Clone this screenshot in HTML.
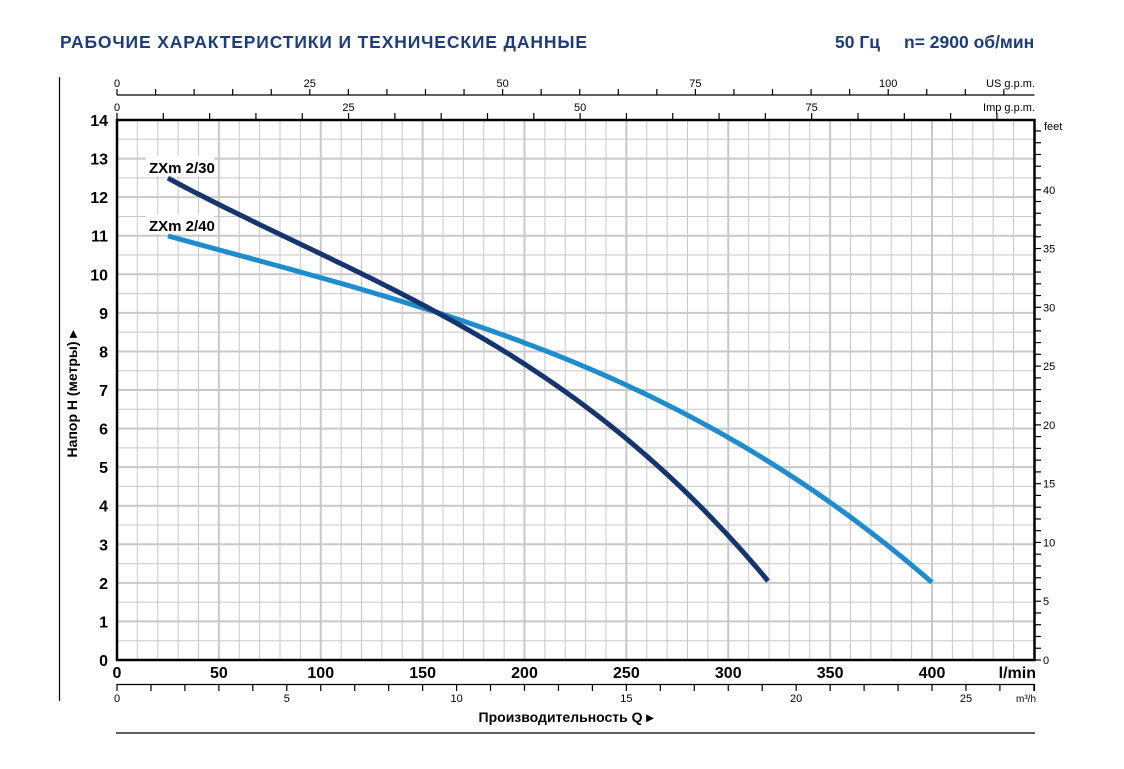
<!DOCTYPE html>
<html><head><meta charset="utf-8"><style>
body{margin:0;background:#fff;width:1124px;height:769px;overflow:hidden}
svg{display:block;font-family:"Liberation Sans Narrow","Liberation Sans",sans-serif}
</style></head><body>
<svg id="s" width="1124" height="769" viewBox="0 0 1124 769" xmlns="http://www.w3.org/2000/svg">
<text x="60" y="48" font-size="17.5" font-weight="bold" fill="#1d3c78" textLength="527">РАБОЧИЕ ХАРАКТЕРИСТИКИ И ТЕХНИЧЕСКИЕ ДАННЫЕ</text>
<text x="835" y="48" font-size="17.5" font-weight="bold" fill="#1d3c78">50 Гц</text>
<text x="904" y="48" font-size="17.5" font-weight="bold" fill="#1d3c78">n= 2900 об/мин</text>
<g id="g"></g>
</svg>
<script>
const NS="http://www.w3.org/2000/svg",g=document.getElementById('g');
function el(t,a,txt){const e=document.createElementNS(NS,t);for(const k in a)e.setAttribute(k,a[k]);if(txt!=null)e.textContent=txt;g.appendChild(e);return e;}
const X0=117,XR=1034.5,Y0=660,YT=120,kx=2.0375,ky=38.57;
const X=q=>X0+q*kx,Y=h=>Y0-h*ky;
for(let q=10;q<450;q+=10){el('line',{x1:X(q),x2:X(q),y1:YT,y2:Y0,stroke:'#c8c8c8','stroke-width':q%50?1:2});}
for(let h=0.5;h<14;h+=0.5){el('line',{x1:X0,x2:XR,y1:Y(h),y2:Y(h),stroke:'#c8c8c8','stroke-width':h%1?1:2});}
el('rect',{x:X0,y:YT,width:XR-X0,height:Y0-YT,fill:'none',stroke:'#000','stroke-width':2.5});
for(let h=0;h<=14;h++)el('text',{x:108,y:Y(h)+6,'font-size':16,'font-weight':'bold','text-anchor':'end'},h);
for(let q=0;q<=400;q+=50)el('text',{x:X(q),y:678,'font-size':16,'font-weight':'bold','text-anchor':'middle'},q);
el('text',{x:1036,y:678,'font-size':16,'font-weight':'bold','text-anchor':'end'},'l/min');
el('line',{x1:X0,x2:XR,y1:684.5,y2:684.5,stroke:'#000','stroke-width':1.2});
for(let m=0;m<=27;m++){const x=X(m*1000/60);if(x>XR+1)break;el('line',{x1:x,x2:x,y1:684,y2:691,stroke:'#000','stroke-width':1.2});if(m%5==0)el('text',{x:x,y:702,'font-size':11,'text-anchor':'middle'},m);}
el('line',{x1:XR,x2:XR,y1:684,y2:691,stroke:'#000','stroke-width':1.2});
el('text',{x:1036,y:702,'font-size':10,'text-anchor':'end'},'m³/h');
el('line',{x1:X0,x2:XR,y1:95,y2:95,stroke:'#000','stroke-width':1.2});
for(let u=0;u<=115;u+=5){const x=X(u*3.785);if(x>XR)break;el('line',{x1:x,x2:x,y1:89,y2:95,stroke:'#000','stroke-width':1.2});if(u%25==0)el('text',{x:x,y:87,'font-size':11,'text-anchor':'middle'},u);}
el('text',{x:1035,y:87,'font-size':11,'text-anchor':'end'},'US g.p.m.');
for(let u=0;u<=95;u+=5){const x=X(u*4.546);if(x>XR)break;el('line',{x1:x,x2:x,y1:113,y2:120,stroke:'#000','stroke-width':1.2});if(u%25==0)el('text',{x:x,y:111,'font-size':11,'text-anchor':'middle'},u);}
el('text',{x:1035,y:111,'font-size':11,'text-anchor':'end'},'Imp g.p.m.');
for(let f=0;f<=45;f++){const y=Y(f*0.3048);if(y<YT+3)break;el('line',{x1:XR,x2:1041,y1:y,y2:y,stroke:'#000','stroke-width':1.2});if(f%5==0&&f<45)el('text',{x:1043,y:y+4,'font-size':11},f);}
el('text',{x:1044,y:130,'font-size':11},'feet');
el('line',{x1:59.5,x2:59.5,y1:77,y2:701,stroke:'#000','stroke-width':1.2});
el('line',{x1:116,x2:1035,y1:733,y2:733,stroke:'#000','stroke-width':1.2});
el('text',{x:0,y:0,'font-size':14,'font-weight':'bold','text-anchor':'middle',transform:'translate(77,394) rotate(-90)'},'Напор H (метры)  ▸');
el('text',{x:566,y:722,'font-size':14,'font-weight':'bold','text-anchor':'middle'},'Производительность Q  ▸');
// least-squares cubic fit
function fit(pts){const n=4,A=[];for(let i=0;i<n;i++){A.push(new Array(n+1).fill(0));}
 for(const [q,h] of pts){const s=q/100;const p=[1,s,s*s,s*s*s];for(let i=0;i<n;i++){for(let j=0;j<n;j++)A[i][j]+=p[i]*p[j];A[i][n]+=p[i]*h;}}
 for(let i=0;i<n;i++){let m=i;for(let k=i+1;k<n;k++)if(Math.abs(A[k][i])>Math.abs(A[m][i]))m=k;[A[i],A[m]]=[A[m],A[i]];for(let k=0;k<n;k++)if(k!=i){const f=A[k][i]/A[i][i];for(let j=i;j<=n;j++)A[k][j]-=f*A[i][j];}}
 const c=A.map((r,i)=>r[n]/r[i]);return q=>{const s=q/100;return c[0]+c[1]*s+c[2]*s*s+c[3]*s*s*s;};}
function curve(pts,color){const f=fit(pts);const q0=pts[0][0],q1=pts[pts.length-1][0];let d='';for(let i=0;i<=100;i++){const q=q0+(q1-q0)*i/100;d+=(i?' L':'M')+X(q).toFixed(1)+','+Y(f(q)).toFixed(1);}
 el('path',{d:d,fill:'none',stroke:color,'stroke-width':5});}
curve([[25,11],[98,9.93],[158.5,9.0],[198,8.24],[212.5,7.96],[250,7.18],[299,5.78],[350,4.07],[400,2.02]],'#1e8ccd');
curve([[25,12.5],[98,10.55],[158.5,9.0],[198,7.78],[212.5,7.2],[250,5.70],[280,4.33],[302,3.11],[319.5,2.05]],'#16356e');
el('rect',{x:146,y:156,width:68,height:20,fill:'#fff'});
el('text',{x:149,y:173,'font-size':15,'font-weight':'bold'},'ZXm 2/30');
el('rect',{x:146,y:214,width:68,height:20,fill:'#fff'});
el('text',{x:149,y:231,'font-size':15,'font-weight':'bold'},'ZXm 2/40');
</script>
</body></html>
